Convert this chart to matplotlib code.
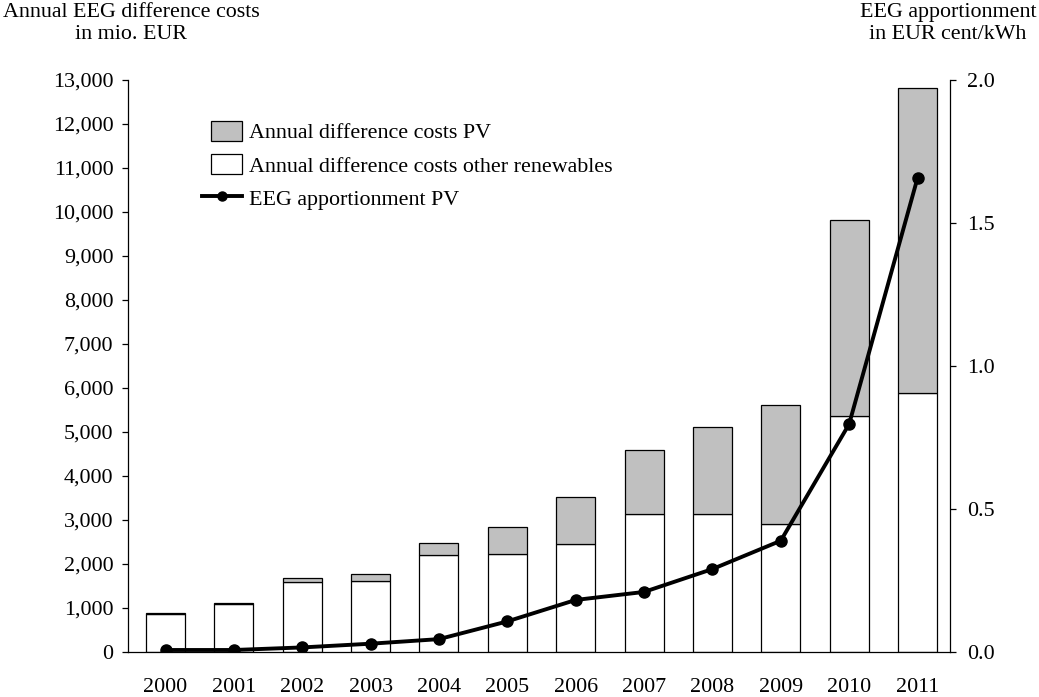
import matplotlib
matplotlib.use("Agg")
import matplotlib.pyplot as plt
from matplotlib.patches import Patch, Rectangle
from matplotlib.lines import Line2D
from matplotlib.legend_handler import HandlerPatch
import numpy as np

years = ["2000", "2001", "2002", "2003", "2004", "2005", "2006", "2007", "2008", "2009", "2010", "2011"]
other_costs = [870, 1100, 1583, 1614, 2205, 2227, 2447, 3144, 3144, 2902, 5364, 5886]
pv_costs = [10, 14, 91, 159, 265, 621, 1076, 1454, 1970, 2719, 4462, 6932]
apportionment = [0.007, 0.007, 0.016, 0.029, 0.045, 0.107, 0.182, 0.210, 0.290, 0.389, 0.797, 1.657]
left_ticks = list(range(0, 13001, 1000))
right_ticks = [0.0, 0.5, 1.0, 1.5, 2.0]

plt.rcParams['font.family'] = ['Liberation Serif', 'DejaVu Serif']
FS = 15.8
plt.rcParams['font.size'] = FS

fig = plt.figure(figsize=(10.39, 6.97), dpi=100)
W, H = 1039, 697
L, R, T, B = 128, 950, 80, 652
ax = fig.add_axes([L / W, 1 - B / H, (R - L) / W, (B - T) / H])
x = np.arange(len(years))
bw = 0.57
ax.bar(x, other_costs, bw, color="white", edgecolor="black", linewidth=0.9, zorder=2)
ax.bar(x, pv_costs, bw, bottom=other_costs, color="#c0c0c0", edgecolor="black", linewidth=0.9, zorder=2)
# x data range: bar centers at pixel 165.5 .. 917.5
step = (917.5 - 165.5) / 11
ax.set_xlim(-(165.5 - L) / step, 11 + (R - 917.5) / step)
ax.set_ylim(0, 13000)
ax.set_yticks(left_ticks)
ax.set_yticklabels([f"{v:,}" for v in left_ticks])
ax.set_xticks(x)
ax.set_xticklabels(years)
ax.tick_params(axis="x", length=0, pad=19)
ax.tick_params(axis="y", direction="out", length=4.5, width=0.9, pad=6)
ax.spines["top"].set_visible(False)
ax.spines["right"].set_visible(False)
for s in ["left", "bottom"]:
    ax.spines[s].set_linewidth(0.9)

ax2 = ax.twinx()
ax2.plot(x, apportionment, color="black", linewidth=2.8, marker="o", markersize=8, zorder=5)
ax2.set_ylim(0, 2.0)
ax2.set_yticks(right_ticks)
ax2.set_yticklabels([f"{v:.1f}" for v in right_ticks])
ax2.tick_params(axis="y", direction="out", length=4.5, width=0.9, pad=8)
ax2.spines["top"].set_visible(False)
ax2.spines["left"].set_visible(False)
ax2.spines["bottom"].set_visible(False)
ax2.spines["right"].set_linewidth(0.9)


def narrow_patch(legend, orig_handle, xdescent, ydescent, width, height, fontsize):
    w = width * 0.78
    return Rectangle((-xdescent + width - w, -ydescent), w, height)


handles = [Patch(facecolor="#c0c0c0", edgecolor="black", linewidth=0.9),
           Patch(facecolor="white", edgecolor="black", linewidth=0.9),
           Line2D([0], [0], color="black", linewidth=2.8, marker="o", markersize=6.5)]
labels = ["Annual difference costs PV", "Annual difference costs other renewables", "EEG apportionment PV"]
fig.legend(handles, labels, loc="upper left", bbox_to_anchor=(202 / W, 1 - 121 / H),
           frameon=False, handlelength=1.83, handleheight=1.0, handletextpad=0.32,
           labelspacing=0.5, borderaxespad=0, borderpad=0, fontsize=FS,
           handler_map={Patch: HandlerPatch(patch_func=narrow_patch)})

fig.text(131 / W, 1 - 3 / H, "Annual EEG difference costs\nin mio. EUR", ha="center", va="top",
         fontsize=FS, linespacing=1.2)
fig.text(948 / W, 1 - 3 / H, "EEG apportionment\nin EUR cent/kWh", ha="center", va="top",
         fontsize=FS, linespacing=1.2)

fig.savefig("out.png", dpi=100)
